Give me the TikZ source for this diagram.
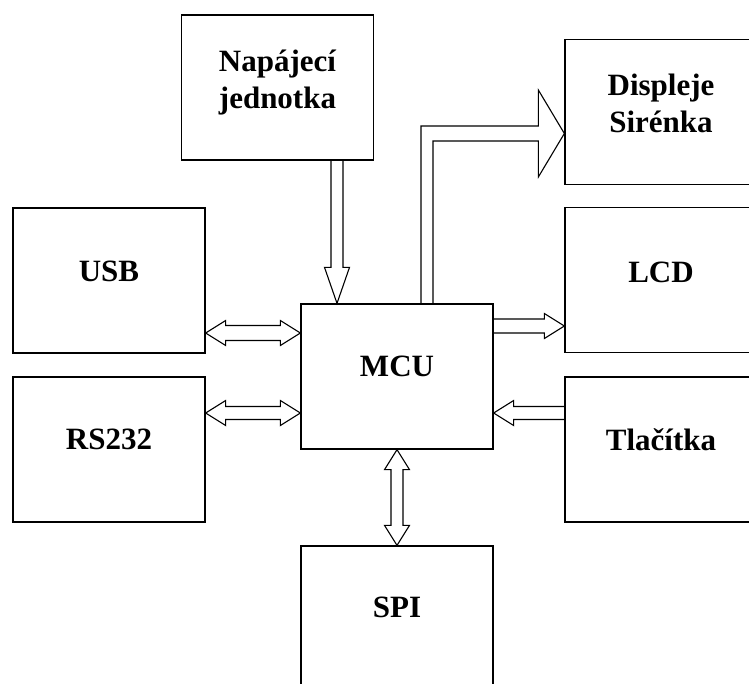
\documentclass[tikz,border=0pt]{standalone}
\usepackage{fontspec}
\setmainfont{Liberation Serif}
\usepackage{tikz}
\usetikzlibrary{calc}

\tikzset{
  blok/.style={draw, line width=1.3pt, minimum width=192pt, minimum height=145pt, inner sep=0pt},
  popis/.style={font=\bfseries\fontsize{31}{37}\selectfont, align=center, inner sep=0pt},
  sirka/.store in=\sipkaSirka, hlava/.store in=\sipkaHlava, delka/.store in=\sipkaDelka,
  sirka=6.5pt, hlava=12.5pt, delka=20pt,
  % hollow block arrow, one head
  sipka/.style={line width=1.1pt, to path={
    let \p1=(\tikztostart), \p2=(\tikztotarget),
        \n1={atan2(\y2-\y1,\x2-\x1)}, \n2={veclen(\x2-\x1,\y2-\y1)} in
    ($(\p1)+({\n1+90}:\sipkaSirka)$)
    -- ($(\p1)+(\n1:\n2-\sipkaDelka)+({\n1+90}:\sipkaSirka)$)
    -- ($(\p1)+(\n1:\n2-\sipkaDelka)+({\n1+90}:\sipkaHlava)$)
    -- (\p2)
    -- ($(\p1)+(\n1:\n2-\sipkaDelka)+({\n1-90}:\sipkaHlava)$)
    -- ($(\p1)+(\n1:\n2-\sipkaDelka)+({\n1-90}:\sipkaSirka)$)
    -- ($(\p1)+({\n1-90}:\sipkaSirka)$)}},
  % hollow block arrow, two heads
  obousipka/.style={line width=1.1pt, to path={
    let \p1=(\tikztostart), \p2=(\tikztotarget),
        \n1={atan2(\y2-\y1,\x2-\x1)}, \n2={veclen(\x2-\x1,\y2-\y1)} in
    -- ($(\p1)+(\n1:\sipkaDelka)+({\n1+90}:\sipkaHlava)$)
    -- ($(\p1)+(\n1:\sipkaDelka)+({\n1+90}:\sipkaSirka)$)
    -- ($(\p1)+(\n1:\n2-\sipkaDelka)+({\n1+90}:\sipkaSirka)$)
    -- ($(\p1)+(\n1:\n2-\sipkaDelka)+({\n1+90}:\sipkaHlava)$)
    -- (\p2)
    -- ($(\p1)+(\n1:\n2-\sipkaDelka)+({\n1-90}:\sipkaHlava)$)
    -- ($(\p1)+(\n1:\n2-\sipkaDelka)+({\n1-90}:\sipkaSirka)$)
    -- ($(\p1)+(\n1:\sipkaDelka)+({\n1-90}:\sipkaSirka)$)
    -- ($(\p1)+(\n1:\sipkaDelka)+({\n1-90}:\sipkaHlava)$)
    -- cycle}},
}

\begin{document}
\begin{tikzpicture}[x=1pt, y=-1pt]
    \path[use as bounding box, clip] (0,0) rectangle (749,683);

    % bloky
    \node[blok] (nap)  at (277.5,87.5) {};
    \node[blok] (usb)  at (109,280.5) {};
    \node[blok] (rs)   at (109,449.5) {};
    \node[blok] (mcu)  at (397,376.5) {};
    \node[blok] (spi)  at (397,618.5) {};
    \node[blok] (disp) at (661,112) {};
    \node[blok] (lcd)  at (661,280) {};
    \node[blok] (tl)   at (661,449.5) {};

    % popisky
    \node[popis] (napt)  at ([yshift=4.7pt]nap.center) {Napájecí\\jednotka};
    \node[popis] (usbt)  at ([yshift=9pt]usb.center) {USB};
    \node[popis] (rst)   at ([yshift=10pt]rs.center) {RS232};
    \node[popis] (mcut)  at ([yshift=10pt]mcu.center) {MCU};
    \node[popis] (spit)  at ([yshift=11pt]spi.center) {SPI};
    \node[popis] (dispt) at ([yshift=9pt]disp.center) {Displeje\\Sirénka};
    \node[popis] (lcdt)  at ([yshift=8pt]lcd.center) {LCD};
    \node[popis] (tlt)   at ([yshift=10pt]tl.center) {Tlačítka};

    % sipky
    \coordinate (k1) at (337,0);
    \coordinate (r1) at (0,333);
    \coordinate (r2) at (0,413);
    \coordinate (r3) at (0,326);
    \coordinate (ohyb) at (427,133.5);
    \draw[sipka, sirka=6pt, delka=36pt] (nap.south -| k1) to (mcu.north -| k1);
    \draw[obousipka, sirka=7.5pt] (usb.east |- r1) to (mcu.west |- r1);
    \draw[obousipka] (rs.east |- r2) to (mcu.west |- r2);
    \draw[sipka, sirka=7pt] (mcu.east |- r3) to (lcd.west |- r3);
    \draw[sipka] (tl.west |- r2) to (mcu.east |- r2);
    \draw[obousipka, sirka=6pt] (mcu.south) to (spi.north);
    \draw[line width=1.1pt] ($(mcu.north -| ohyb)+(-6,0)$) |- ($(disp.west |- ohyb)+(-26,-7.5)$)
      -- ++(0,-36) -- (disp.west |- ohyb) -- ++(-26,43.5) -- ++(0,-36)
      -| ($(mcu.north -| ohyb)+(6,0)$);
\end{tikzpicture}
\end{document}
